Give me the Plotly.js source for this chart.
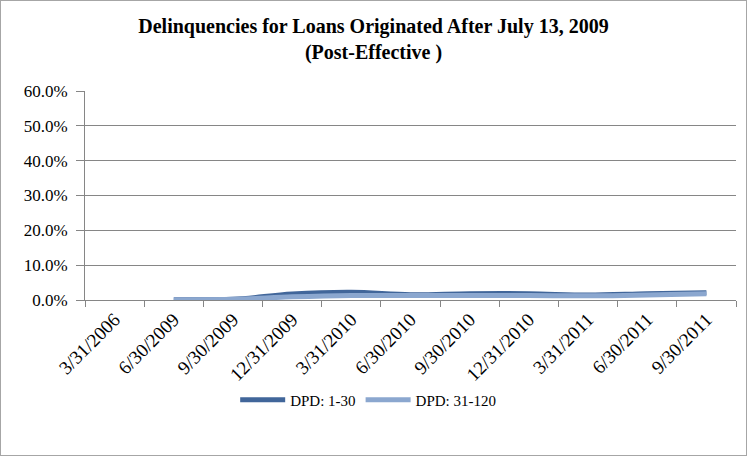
<!DOCTYPE html>
<html>
<head>
<meta charset="utf-8">
<script src="https://cdn.plot.ly/plotly-3.0.1.min.js"></script>
<style>
html,body{margin:0;padding:0;background:#fff;}
#wrap{position:absolute;left:0;top:0;width:745px;height:454px;border:1px solid #a6a6a6;}
#chart{width:745px;height:454px;}
</style>
</head>
<body>
<div id="wrap"><div id="chart"></div></div>
<script>
const categories = ["3/31/2006","6/30/2009","9/30/2009","12/31/2009","3/31/2010","6/30/2010","9/30/2010","12/31/2010","3/31/2011","6/30/2011","9/30/2011"];
const dpd1to30 = [null, 0.1, 0.2, 1.7, 2.2, 1.5, 1.8, 1.8, 1.4, 1.8, 2.1];
const dpd31to120 = [null, 0.1, 0.2, 0.9, 1.3, 1.3, 1.3, 1.3, 1.2, 1.4, 1.8];
const yTicks = [0, 10, 20, 30, 40, 50, 60];
const SERIF = "Times New Roman";

const traces = [
  {x: categories, y: dpd1to30, name: "DPD: 1-30", type: "scatter", mode: "lines",
   line: {color: "#41669a", width: 5, shape: "spline"}},
  {x: categories, y: dpd31to120, name: "DPD: 31-120", type: "scatter", mode: "lines",
   line: {color: "#8ba7cf", width: 5, shape: "spline"}}
];

const layout = {
  width: 745, height: 454,
  margin: {l: 84, r: 10, t: 90, b: 155},
  paper_bgcolor: "#fff", plot_bgcolor: "#fff",
  font: {family: SERIF, size: 15, color: "#000"},
  title: {text: "<b>Delinquencies for Loans Originated After July 13, 2009<br>(Post-Effective )</b>",
          font: {family: SERIF, size: 20, color: "#000"},
          x: 0.5, xanchor: "center", y: 0.93, yanchor: "top"},
  showlegend: true,
  legend: {orientation: "h", x: 0.435, xanchor: "center", y: -0.40, yanchor: "top",
           itemwidth: 45, font: {family: SERIF, size: 15}},
  xaxis: {type: "category", range: [-0.5, 10.5], tickangle: -45, tickson: "boundaries", ticks: "outside",
          ticklen: 6, tickcolor: "#868686", showline: true, linecolor: "#868686",
          showgrid: false, zeroline: false, tickfont: {family: SERIF, size: 19}},
  yaxis: {range: [0, 60], tickvals: yTicks, ticktext: yTicks.map(v => v.toFixed(1) + "%"),
          ticks: "outside", ticklen: 8, tickcolor: "#868686", showline: true, linecolor: "#868686",
          ticklabelstandoff: 5,
          showgrid: true, gridcolor: "#868686", gridwidth: 1, zeroline: false,
          tickfont: {family: SERIF, size: 17}}
};

Plotly.newPlot("chart", traces, layout, {displayModeBar: false, staticPlot: true});
</script>
</body>
</html>
